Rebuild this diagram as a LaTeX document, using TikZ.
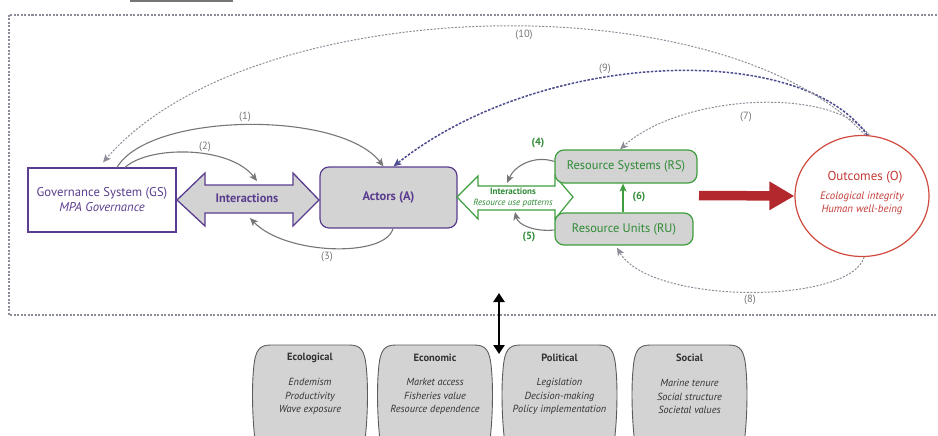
\documentclass[tikz,border=0pt]{standalone}
\usepackage{fontspec}
\setmainfont{PT Sans}
\usetikzlibrary{arrows.meta,shapes.geometric,calc}
\definecolor{purp}{HTML}{5A3D8E}
\definecolor{grn}{HTML}{3E9E3E}
\definecolor{grntxt}{HTML}{2E8B35}
\definecolor{rd}{HTML}{D04A3E}
\definecolor{rdtxt}{HTML}{C23A34}
\definecolor{rdarrow}{HTML}{B3282D}
\definecolor{boxgray}{HTML}{D3D3D3}
\definecolor{arrgray}{HTML}{767676}
\definecolor{dashgray}{HTML}{8C8C98}
\definecolor{dashpurp}{HTML}{4C4C8E}
\definecolor{txtdark}{HTML}{333333}
\begin{document}
\begin{tikzpicture}[x=1pt,y=-1pt,
  solidarr/.style={draw=arrgray, line width=1.1pt, -{Stealth[length=8pt,width=7pt,inset=2pt]}},
  dasharr/.style={draw=dashgray, line width=1pt, dash pattern=on 2pt off 1.5pt, -{Stealth[length=8pt,width=7pt,inset=2pt]}},
  purpdash/.style={draw=dashpurp, line width=1.5pt, dash pattern=on 2.5pt off 1.5pt, -{Stealth[length=8pt,width=7pt,inset=2pt]}},
  num/.style={text=arrgray, font=\fontsize{10.5}{12}\selectfont, inner sep=1pt},
  gnum/.style={text=grntxt, font=\fontsize{10.5}{12}\selectfont\bfseries, inner sep=1pt},
  rbox/.style={rounded corners=9pt, fill=boxgray, line width=1.2pt},
  tabbox/.pic={\path[fill=boxgray, draw=txtdark!80, line width=0.9pt] (2,95) .. controls (-1,70) and (-1,40) .. (0.5,25) .. controls (2,5) and (6,0) .. (18,0) -- (96,0) .. controls (108,0) and (112,5) .. (113.5,25) .. controls (115,40) and (115,70) .. (112,95);},
  bttl/.style={text=txtdark, font=\fontsize{10.5}{12}\selectfont\bfseries},
  bitem/.style={text=txtdark, font=\fontsize{10.3}{13.5}\selectfont\itshape, align=center}
]
\useasboundingbox (0,0) rectangle (938,436);
% top bar fragment
\fill[arrgray] (130,0) rectangle (233,2.5);
% outer dashed frame
\draw[dashgray, line width=1.1pt, dash pattern=on 2pt off 1.5pt] (940,15) -- (9,15) -- (9,315) -- (940,315);

% Governance system
\node[draw=purp, line width=1.2pt, minimum width=148pt, minimum height=64pt, align=center, text=purp,
  font=\fontsize{12.7}{15}\selectfont] (gs) at (102,200) {Governance System (GS)\\\textit{MPA Governance}};

% Interactions double arrow (purple)
\draw[purp, line width=1.3pt, fill=boxgray] (177,200) -- (205,173) -- (205,185) -- (293,185) -- (293,173) -- (319,200)
  -- (293,226) -- (293,213) -- (205,213) -- (205,226) -- cycle;
\node[text=purp, font=\fontsize{12.3}{14}\selectfont\bfseries] (inter) at (247,198.5) {Interactions};
\coordinate (intTop) at (257,181);
\coordinate (intBot) at (250,218);

% Actors
\node[rbox, draw=purp, minimum width=137pt, minimum height=61pt, text=purp,
  font=\fontsize{12.5}{14}\selectfont\bfseries] (act) at (388.5,197.5) {Actors (A)};

% Green interactions double arrow
\draw[grn, line width=1.2pt, fill=white] (457,197) -- (478,176) -- (478,186) -- (555,186) -- (555,176) -- (573,197)
  -- (555,219) -- (555,210) -- (478,210) -- (478,219) -- cycle;
\node[text=grntxt, align=center, font=\fontsize{9}{11}\selectfont] (rui) at (513,197.5)
  {\textbf{Interactions}\\\textit{Resource use patterns}};
\coordinate (grTop) at (507,183);
\coordinate (grBot) at (515,212);

% Resource systems / units
\node[rbox, draw=grn, minimum width=142pt, minimum height=33pt, text=grntxt,
  font=\fontsize{12.4}{14}\selectfont] (rs) at (626,166.5) {Resource Systems (RS)};
\node[rbox, draw=grn, minimum width=138pt, minimum height=32pt, text=grntxt,
  font=\fontsize{12.4}{14}\selectfont] (ru) at (624,229) {Resource Units (RU)};

% Outcomes
\node[ellipse, draw=rd, line width=1.2pt, minimum width=134pt, minimum height=121pt] (o) at (862,196) {};
\node[text=rdtxt, font=\fontsize{13}{14}\selectfont] (ot) at (865,177) {Outcomes (O)};
\node[text=rdtxt, align=center, font=\fontsize{10.8}{12.5}\selectfont\itshape] (oi) at (862,203.5)
  {Ecological integrity\\Human well-being};

% Red arrow
\coordinate (rarr) at (699,195.5);
\draw[rdarrow, line width=9.5pt, -{Triangle[length=25pt,width=27pt]}] (rarr) -- (o.west);

% connectors
\draw[solidarr] ([xshift=15pt]gs.north) .. controls (150,112) and (340,110) .. ([xshift=-5pt]act.north);
\node[num] (l1) at (245,117) {(1)};
\draw[solidarr] ([xshift=23pt]gs.north) .. controls (150,145) and (230,146) .. (intTop);
\node[num] (l2) at (205,147) {(2)};
\draw[solidarr] ([xshift=4.5pt]act.south) .. controls (385,258) and (285,255) .. (intBot);
\node[num] (l3) at (327,257) {(3)};
\draw[solidarr] ([yshift=5pt]rs.west) .. controls (535,155) and (515,165) .. (grTop);
\node[gnum] (l4) at (538,143) {(4)};
\draw[solidarr] ([yshift=-1pt]ru.west) .. controls (535,232) and (518,225) .. (grBot);
\node[gnum] (l5) at (529,237) {(5)};
\draw[grn, line width=1.2pt, -{Stealth[length=8pt,width=7pt,inset=2pt]}] ([xshift=-1pt]ru.north) -- ([xshift=-3pt]rs.south);
\node[gnum] (l6) at (639,197) {(6)};
\draw[dasharr] (o.83) .. controls (830,85) and (680,95) .. ([xshift=-6pt]rs.north);
\node[num] (l7) at (746,117) {(7)};
\draw[dasharr] (o.-88) .. controls (850,305) and (650,305) .. ([xshift=-7pt,yshift=-2pt]ru.south);
\node[num] (l8) at (750,300) {(8)};
\draw[purpdash] (o.85) .. controls (800,40) and (540,50) .. ([xshift=5pt]act.north);
\node[num] (l9) at (605,69) {(9)};
\draw[dasharr] (o.87) .. controls (720,-20) and (250,-8) .. ([xshift=1pt,yshift=5pt]gs.north);
\node[num] (l10) at (524,35) {(10)};

% black double arrow
\coordinate (bt) at (499,293);
\coordinate (bb) at (499,354);
\draw[black, line width=2.5pt, {Triangle[length=9pt,width=11pt]}-{Triangle[length=9pt,width=11pt]}] (bt) -- (bb);

% bottom boxes
\pic at (253,345) {tabbox};
\pic at (378,345) {tabbox};
\pic at (502.5,345) {tabbox};
\pic at (632.5,345) {tabbox};
\node[bttl] (eco) at (310,358) {Ecological};
\node[bitem] (ecoi) at (310,396.5) {Endemism\\Productivity\\Wave exposure};
\node[bttl] (econ) at (435,358) {Economic};
\node[bitem] (econi) at (435,396.5) {Market access\\Fisheries value\\Resource dependence};
\node[bttl] (pol) at (559.5,358) {Political};
\node[bitem] (poli) at (559.5,396.5) {Legislation\\Decision-making\\Policy implementation};
\node[bttl] (soc) at (689.5,358) {Social};
\node[bitem] (soci) at (689.5,396.5) {Marine tenure\\Social structure\\Societal values};
\end{tikzpicture}
\end{document}
